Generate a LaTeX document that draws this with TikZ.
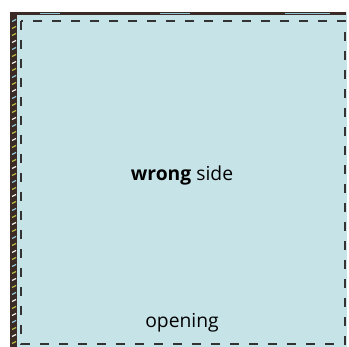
\documentclass[tikz,border=0pt]{standalone}
\usepackage{fontspec}
\setmainfont{Open Sans}
\usepackage{xcolor}
\usetikzlibrary{positioning}

\definecolor{fabric}{HTML}{C6E3E8}
\definecolor{seam}{HTML}{3A2B27}
\definecolor{threadA}{HTML}{B5B845}
\definecolor{threadB}{HTML}{EDEDE8}
\definecolor{threadC}{HTML}{8CC4D2}

\begin{document}
\begin{tikzpicture}[
    x=1pt, y=-1pt,
    cloth/.style={fill=fabric},
    edge/.style={fill=seam},
    stitch/.style={draw=#1, line width=1.3pt},
    stitch/.default=threadA,
    fold/.style={draw=black!80, line width=1.4pt, dash pattern=on 9pt off 10pt},
    label/.style={font=\fontsize{19.3}{21}\selectfont, text=black, inner sep=0pt}
]
    \useasboundingbox (0,0) rectangle (349,347);
    % fabric and finished edges
    \fill[cloth] (10,12) rectangle (347,347);
    \fill[edge] (10,12) rectangle (17,347);
    \fill[edge] (10,12) rectangle (346,15);
    \draw[stitch=threadC, line width=1pt] (40,13.5) -- (60,13.5);
    \draw[stitch=threadC, line width=1pt] (160,13.5) -- (190,13.5);
    \draw[stitch=threadC, line width=1pt] (285,13.5) -- (330,13.5);
    \foreach \y/\c in {20/threadC,27/threadA,34/threadA,41/threadB,48/threadC,55/threadA,62/threadB,69/threadA,76/threadC,83/threadA,90/threadB,97/threadC,104/threadA,111/threadA,118/threadB,125/threadC,132/threadA,139/threadB,146/threadA,153/threadC,160/threadA,167/threadB,174/threadA,181/threadC,188/threadA,195/threadB,202/threadA,209/threadC,216/threadA,223/threadB,230/threadA,237/threadC,244/threadA,251/threadB,258/threadA,265/threadC,272/threadA,279/threadB,286/threadA,293/threadC,300/threadB,307/threadA,314/threadB,321/threadC,328/threadA,335/threadB,342/threadA}
        \draw[stitch=\c] (12,\y+1.5) -- (16,\y-0.5);
    % seam line
    \draw[fold] (21,21) rectangle (345,344);

    \node[label] (side) at (182,175) {\textbf{wrong} side};
    \node[label] (opening) at (182,323) {opening};
\end{tikzpicture}
\end{document}
